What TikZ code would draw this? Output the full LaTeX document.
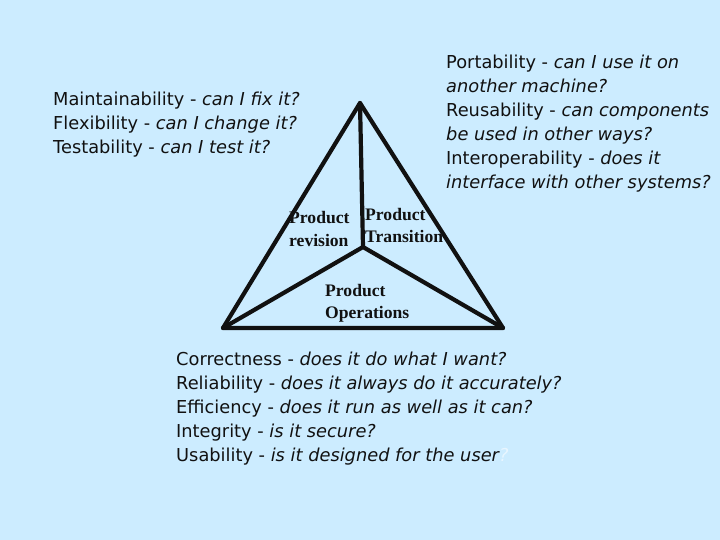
\documentclass[tikz,border=0pt]{standalone}
\usepackage{fontspec}
\setmainfont{DejaVu Sans}
\newfontfamily\labelfont{Liberation Serif}
\definecolor{bgblue}{HTML}{CCECFF}
\definecolor{ink}{HTML}{111111}
\definecolor{ghost}{HTML}{E8F6FF}
\begin{document}
\begin{tikzpicture}[x=1pt,y=-1pt,
  txt/.style={anchor=base west,inner sep=0pt,font=\fontsize{17.8}{24}\selectfont,text=ink},
  lab/.style={anchor=base west,inner sep=0pt,font=\labelfont\bfseries\fontsize{17.6}{20}\selectfont,text=ink},
  edge/.style={line width=4.2pt,draw=ink,line cap=round,line join=round}]
\fill[bgblue] (0,0) rectangle (720,540);
\useasboundingbox (0,0) rectangle (720,540);
% triangle vertices
\coordinate (top) at (360,103);
\coordinate (bl) at (223,328);
\coordinate (br) at (503,328);
\coordinate (mid) at (363,247);
\draw[edge] (top) -- (bl) -- (br) -- cycle;
\draw[edge] (top) -- (mid);
\draw[edge] (bl) -- (mid) -- (br);
% left block
\node[txt] (m1) at (53,106) {Maintainability - \textit{can I fix it?}};
\node[txt] (m2) at (53,130) {Flexibility - \textit{can I change it?}};
\node[txt] (m3) at (53,154) {Testability - \textit{can I test it?}};
% right block
\node[txt] (p1) at (446,69) {Portability - \textit{can I use it on}};
\node[txt] (p2) at (446,93) {\textit{another machine?}};
\node[txt] (p3) at (446,117) {Reusability - \textit{can components}};
\node[txt] (p4) at (446,141) {\textit{be used in other ways?}};
\node[txt] (p5) at (446,165) {Interoperability - \textit{does it}};
\node[txt] (p6) at (446,189) {\textit{interface with other systems?}};
% bottom block
\node[txt] (c1) at (176,365) {Correctness - \textit{does it do what I want?}};
\node[txt] (c2) at (176,389) {Reliability - \textit{does it always do it accurately?}};
\node[txt] (c3) at (176,413) {Efficiency - \textit{does it run as well as it can?}};
\node[txt] (c4) at (176,437) {Integrity - \textit{is it secure?}};
\node[txt] (c5) at (176,461) {Usability - \textit{is it designed for the user\textcolor{ghost}{?}}};
% triangle labels
\node[lab] (r1) at (289,224) {Product};
\node[lab] (r2) at (289,246) {revision};
\node[lab] (t1) at (365,221) {Product};
\node[lab] (t2) at (365,243) {Transition};
\node[lab] (o1) at (325,296) {Product};
\node[lab] (o2) at (325,318) {Operations};
\end{tikzpicture}
\end{document}
